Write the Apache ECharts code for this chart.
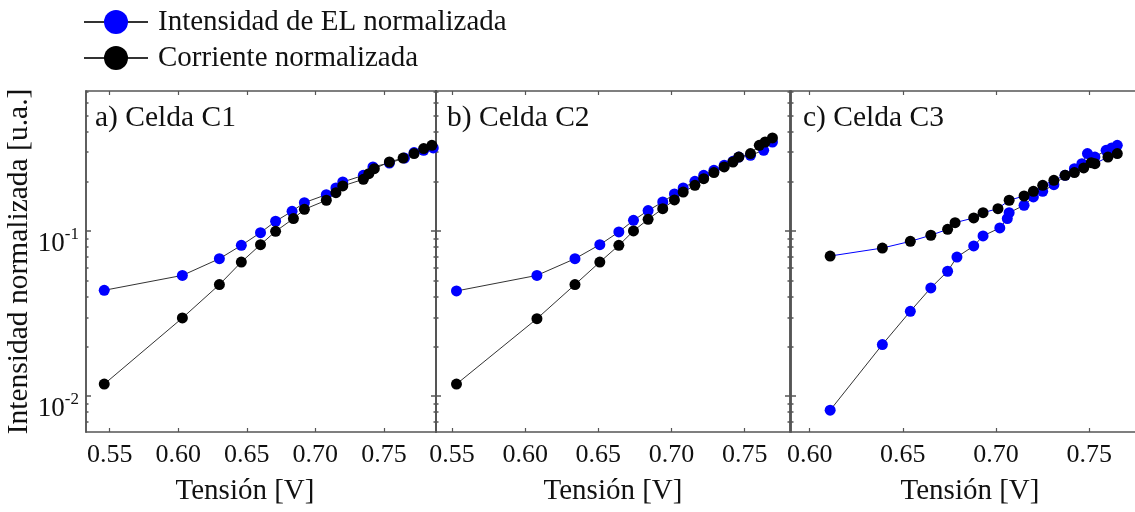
<!DOCTYPE html>
<html>
<head>
<meta charset="utf-8">
<script src="https://cdn.jsdelivr.net/npm/echarts@6/dist/echarts.min.js"></script>
<style>
html,body{margin:0;padding:0;background:#fff;}
#chart{width:1135px;height:512px;}
</style>
</head>
<body>
<div id="chart"></div>
<script>
// ---- Data ----
const seriesNames = ['Intensidad de EL normalizada', 'Corriente normalizada'];
const panelTitles = ['a) Celda C1', 'b) Celda C2', 'c) Celda C3'];
const xAxisName = 'Tensión [V]';
const yAxisName = 'Intensidad normalizada [u.a.]';

// Panel a) Celda C1
const aElV = [0.546,0.603,0.630,0.646,0.660,0.671,0.683,0.692,0.708,0.715,0.720,0.735,0.742,0.754,0.765,0.772,0.779,0.786];
const aElI = [0.0437,0.0538,0.0679,0.0818,0.0977,0.1145,0.1316,0.1485,0.166,0.1824,0.198,0.2173,0.2445,0.258,0.2767,0.2985,0.308,0.3186];
const aCurV = [0.546,0.603,0.630,0.646,0.660,0.671,0.684,0.692,0.708,0.715,0.720,0.735,0.739,0.743,0.754,0.764,0.772,0.779,0.785];
const aCurI = [0.0118,0.0297,0.0473,0.0648,0.0826,0.0995,0.1188,0.1352,0.1535,0.1707,0.1875,0.2056,0.2224,0.2386,0.2618,0.2767,0.2944,0.3155,0.3305];

// Panel b) Celda C2
const bElV = [0.553,0.608,0.634,0.651,0.664,0.674,0.684,0.694,0.702,0.708,0.716,0.722,0.729,0.736,0.742,0.746,0.754,0.763,0.769];
const bElI = [0.0433,0.0538,0.0679,0.0826,0.0986,0.116,0.1329,0.1499,0.1675,0.1823,0.2,0.2173,0.2332,0.25,0.2642,0.2806,0.2875,0.3083,0.346];
const bCurV = [0.553,0.608,0.634,0.651,0.664,0.674,0.684,0.694,0.702,0.708,0.716,0.722,0.729,0.736,0.742,0.746,0.754,0.760,0.764,0.769];
const bCurI = [0.0118,0.0294,0.0473,0.0648,0.0818,0.1,0.1177,0.1365,0.1541,0.172,0.189,0.2074,0.2258,0.2445,0.2618,0.2806,0.2944,0.3305,0.346,0.3663];

// Panel c) Celda C3
const cElV = [0.611,0.639,0.654,0.665,0.674,0.679,0.688,0.693,0.702,0.706,0.707,0.715,0.720,0.725,0.731,0.737,0.742,0.746,0.749,0.753,0.759,0.762,0.765];
const cElI = [0.0082,0.0205,0.0326,0.0452,0.057,0.0695,0.0811,0.0933,0.1043,0.1188,0.1291,0.1431,0.1607,0.1739,0.1909,0.2173,0.2386,0.2559,0.2944,0.2806,0.3083,0.3186,0.3305];
const cCurV = [0.611,0.639,0.654,0.665,0.674,0.678,0.688,0.693,0.701,0.707,0.715,0.720,0.725,0.731,0.737,0.742,0.747,0.751,0.753,0.760,0.765];
const cCurI = [0.0705,0.0788,0.0865,0.0942,0.1023,0.1123,0.1199,0.1291,0.1365,0.1535,0.1629,0.1739,0.189,0.2028,0.2173,0.2258,0.241,0.2594,0.2559,0.2806,0.2944];

// Tick values
const xTicksAB = [0.55, 0.60, 0.65, 0.70, 0.75];
const xTicksC = [0.60, 0.65, 0.70, 0.75];
const yMajorTicks = [0.01, 0.1];
const yMinorTicks = [0.007,0.008,0.009,0.02,0.03,0.04,0.05,0.06,0.07,0.08,0.09,0.2,0.3,0.4,0.5,0.6,0.7];

// ---- Layout / style ----
const FONT = 'Liberation Serif';
const BLUE = '#0000ff';
const BLACK = '#000000';
const LINE = '#333333';
const FRAME = '#555555';
const Y_MIN = 0.00605, Y_MAX = 0.705;

const panels = [
  {left: 86, width: 350, xmin: 0.5327, xmax: 0.788, ticks: xTicksAB, el: [aElV, aElI], cur: [aCurV, aCurI], elLine: LINE, curLine: LINE, titleX: 95, namePad: [0, 32, 0, 0], rightAxis: true},
  {left: 436, width: 354, xmin: 0.539, xmax: 0.781, ticks: xTicksAB, el: [bElV, bElI], cur: [bCurV, bCurI], elLine: LINE, curLine: LINE, titleX: 447, namePad: [0, 0, 0, 0], rightAxis: true},
  {left: 791, width: 352, xmin: 0.590, xmax: 0.7745, ticks: xTicksC, el: [cElV, cElI], cur: [cCurV, cCurI], elLine: LINE, curLine: BLUE, titleX: 803, namePad: [0, 0, 0, 14], rightAxis: false}
];

const zip = (xs, ys) => xs.map((x, i) => [x, ys[i]]);

const grid = [], xAxis = [], yAxis = [], series = [], title = [];
panels.forEach((p, k) => {
  grid.push({left: p.left, top: 91, width: p.width, height: 341, containLabel: false});
  const axLine = {show: true, lineStyle: {color: FRAME, width: 1.5}};
  // bottom x axis with labels
  xAxis.push({
    type: 'value', gridIndex: k, position: 'bottom', min: p.xmin, max: p.xmax,
    splitLine: {show: false}, axisLine: axLine,
    axisTick: {show: true, inside: true, length: 4, customValues: p.ticks, lineStyle: {color: FRAME, width: 1.2}},
    axisLabel: {show: true, customValues: p.ticks, margin: 10, fontFamily: FONT, fontSize: 26, color: '#111',
      formatter: v => v.toFixed(2)},
    name: xAxisName, nameLocation: 'middle', nameGap: 45,
    nameTextStyle: {fontFamily: FONT, fontSize: 29, color: '#111', padding: p.namePad}
  });
  // top x axis (ticks only)
  xAxis.push({
    type: 'value', gridIndex: k, position: 'top', min: p.xmin, max: p.xmax,
    splitLine: {show: false}, axisLine: axLine,
    axisTick: {show: true, inside: true, length: 4, customValues: p.ticks, lineStyle: {color: FRAME, width: 1.2}},
    axisLabel: {show: false}
  });
  const yBase = {type: 'log', logBase: 10, gridIndex: k, min: Y_MIN, max: Y_MAX, splitLine: {show: false}, axisLine: axLine};
  // left major
  yAxis.push(Object.assign({}, yBase, {
    position: 'left',
    axisTick: {show: true, inside: true, length: 5, customValues: yMajorTicks, lineStyle: {color: FRAME, width: 1.5}},
    axisLabel: k === 0 ? {
      show: true, customValues: yMajorTicks, margin: 7, padding: [17, 0, 0, 0],
      formatter: v => '{b|10}{s|' + Math.round(Math.log10(v)) + '}',
      rich: {
        b: {fontFamily: FONT, fontSize: 27, lineHeight: 27, color: '#111', padding: [9, 0, 0, 0]},
        s: {fontFamily: FONT, fontSize: 17, lineHeight: 17, color: '#111', verticalAlign: 'top'}
      }
    } : {show: false},
    name: k === 0 ? yAxisName : '', nameLocation: 'middle', nameGap: 52,
    nameTextStyle: {fontFamily: FONT, fontSize: 29.5, color: '#111'}
  }));
  // left minor
  yAxis.push(Object.assign({}, yBase, {
    position: 'left',
    axisTick: {show: true, inside: true, length: 2.5, customValues: yMinorTicks, lineStyle: {color: FRAME, width: 1.5}},
    axisLabel: {show: false}
  }));
  // right major
  yAxis.push(Object.assign({}, yBase, {
    position: 'right', show: p.rightAxis,
    axisTick: {show: true, inside: true, length: 5, customValues: yMajorTicks, lineStyle: {color: FRAME, width: 1.5}},
    axisLabel: {show: false}
  }));
  // right minor
  yAxis.push(Object.assign({}, yBase, {
    position: 'right', show: p.rightAxis,
    axisTick: {show: true, inside: true, length: 2.5, customValues: yMinorTicks, lineStyle: {color: FRAME, width: 1.5}},
    axisLabel: {show: false}
  }));

  series.push({
    name: seriesNames[0], type: 'line', xAxisIndex: 2 * k, yAxisIndex: 4 * k,
    data: zip(p.el[0], p.el[1]), symbol: 'circle', symbolSize: 11,
    itemStyle: {color: BLUE}, lineStyle: {color: p.elLine, width: 1}, animation: false
  });
  series.push({
    name: seriesNames[1], type: 'line', xAxisIndex: 2 * k, yAxisIndex: 4 * k,
    data: zip(p.cur[0], p.cur[1]), symbol: 'circle', symbolSize: 11,
    itemStyle: {color: BLACK}, lineStyle: {color: p.curLine, width: 1}, animation: false
  });

  title.push({text: panelTitles[k], left: p.titleX, top: 103, padding: 0,
    textStyle: {fontFamily: FONT, fontSize: 29.5, fontWeight: 'normal', color: '#111'}});
});

const chart = echarts.init(document.getElementById('chart'), null, {renderer: 'canvas'});
chart.setOption({
  backgroundColor: '#ffffff',
  animation: false,
  title: title,
  legend: {
    data: seriesNames, orient: 'vertical', left: 83, top: 7, padding: 0,
    itemWidth: 64, itemHeight: 30, itemGap: 6,
    textStyle: {fontFamily: FONT, fontSize: 29, color: '#111', lineHeight: 30, padding: [0, 0, 0, 5]}
  },
  grid: grid, xAxis: xAxis, yAxis: yAxis, series: series
});
</script>
</body>
</html>
